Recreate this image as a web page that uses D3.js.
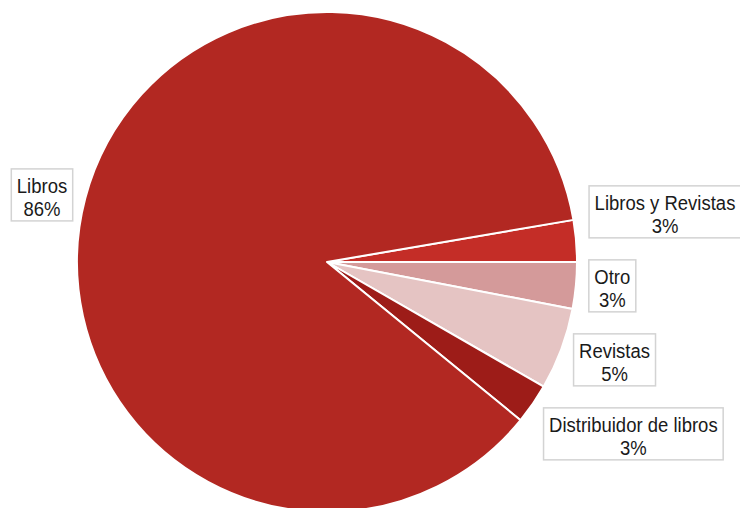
<!DOCTYPE html>
<html>
<head>
<meta charset="utf-8">
<script src="https://cdn.jsdelivr.net/npm/d3@7"></script>
<style>
  body { margin: 0; background: #fff; }
  svg { display: block; }
</style>
</head>
<body>
<div id="chart"></div>
<script>
// slices, clockwise from the top of "Libros y Revistas"
const categories = ['Libros y Revistas', 'Otro', 'Revistas', 'Distribuidor de libros', 'Libros'];
const values = [2.7, 3.0, 5.3, 2.6, 86.4];
const pctLabels = ['3%', '3%', '5%', '3%', '86%'];
const colors = ['#c42d27', '#d49a9a', '#e5c4c3', '#9d1c18', '#b22822'];

const width = 740;
const height = 508;
const cx = 327;
const cy = 262;
const radius = 250;
const startDeg = 80.3;

const svg = d3
  .select('#chart')
  .append('svg')
  .attr('width', width)
  .attr('height', height)
  .attr('viewBox', [0, 0, width, height]);

const pie = d3
  .pie()
  .sort(null)
  .value((d) => d)
  .startAngle((startDeg * Math.PI) / 180)
  .endAngle((startDeg * Math.PI) / 180 + 2 * Math.PI);

const arcs = pie(values);
const arc = d3.arc().innerRadius(0).outerRadius(radius);

const g = svg.append('g').attr('transform', `translate(${cx},${cy})`);

g.selectAll('path')
  .data(arcs)
  .join('path')
  .attr('d', arc)
  .attr('fill', (d, i) => colors[i])
  .attr('stroke', '#fff')
  .attr('stroke-width', 2)
  .attr('stroke-linejoin', 'round');

// labels: anchored just outside the rim, then spread vertically so they do not overlap
const fontSize = 18.5;
const stretchY = 1.1;
const lineH = 23;
const padX = 5.5;
const boxH = 52;
const gapY = 22;
const labelR = radius + 13;

const labels = arcs.map((d, i) => {
  const a = (d.startAngle + d.endAngle) / 2;
  const x = Math.sin(a) * labelR;
  const y = -Math.cos(a) * labelR;
  return { i, x, y, target: y, side: x >= 0 ? 1 : -1 };
});

function spread(list) {
  list.sort((a, b) => a.target - b.target);
  const step = boxH + gapY;
  // pool adjacent clusters until no overlap remains
  const clusters = list.map((l) => ({ items: [l], pos: l.target }));
  let merged = true;
  while (merged) {
    merged = false;
    for (let k = 0; k < clusters.length - 1; k += 1) {
      const c1 = clusters[k];
      const c2 = clusters[k + 1];
      const end1 = c1.pos + (c1.items.length - 1) * step;
      if (c2.pos - end1 < step) {
        const items = c1.items.concat(c2.items);
        const pos = d3.mean(items, (l, j) => l.target - j * step);
        clusters.splice(k, 2, { items, pos });
        merged = true;
        break;
      }
    }
  }
  clusters.forEach((c) => {
    c.items.forEach((l, j) => {
      l.y = c.pos + j * step;
    });
  });
}

spread(labels.filter((l) => l.side > 0));
spread(labels.filter((l) => l.side < 0));

const lg = g
  .selectAll('g.label')
  .data(labels)
  .join('g')
  .attr('class', 'label');

lg.each(function (l) {
  const sel = d3.select(this);
  const rect = sel.append('rect');
  const text = sel
    .append('text')
    .attr('font-family', 'Liberation Sans, Arial, sans-serif')
    .attr('font-size', fontSize)
    .attr('fill', '#1a1a1a')
    .attr('text-anchor', 'middle');
  text.append('tspan').attr('x', 0).attr('y', 0).text(categories[l.i]);
  text.append('tspan').attr('x', 0).attr('y', lineH / stretchY).text(pctLabels[l.i]);
  const w = d3.max(text.selectAll('tspan').nodes(), (n) => n.getComputedTextLength());
  const boxW = w + padX * 2;
  const left = l.side > 0 ? l.x : l.x - boxW;
  const top = l.y - boxH / 2;
  rect
    .attr('x', left)
    .attr('y', top)
    .attr('width', boxW)
    .attr('height', boxH)
    .attr('fill', '#fff')
    .attr('stroke', '#d3d3d3')
    .attr('stroke-width', 1.5);
  text.attr('transform', `translate(${left + boxW / 2},${top + 24}) scale(1,${stretchY})`);
});
</script>
</body>
</html>
